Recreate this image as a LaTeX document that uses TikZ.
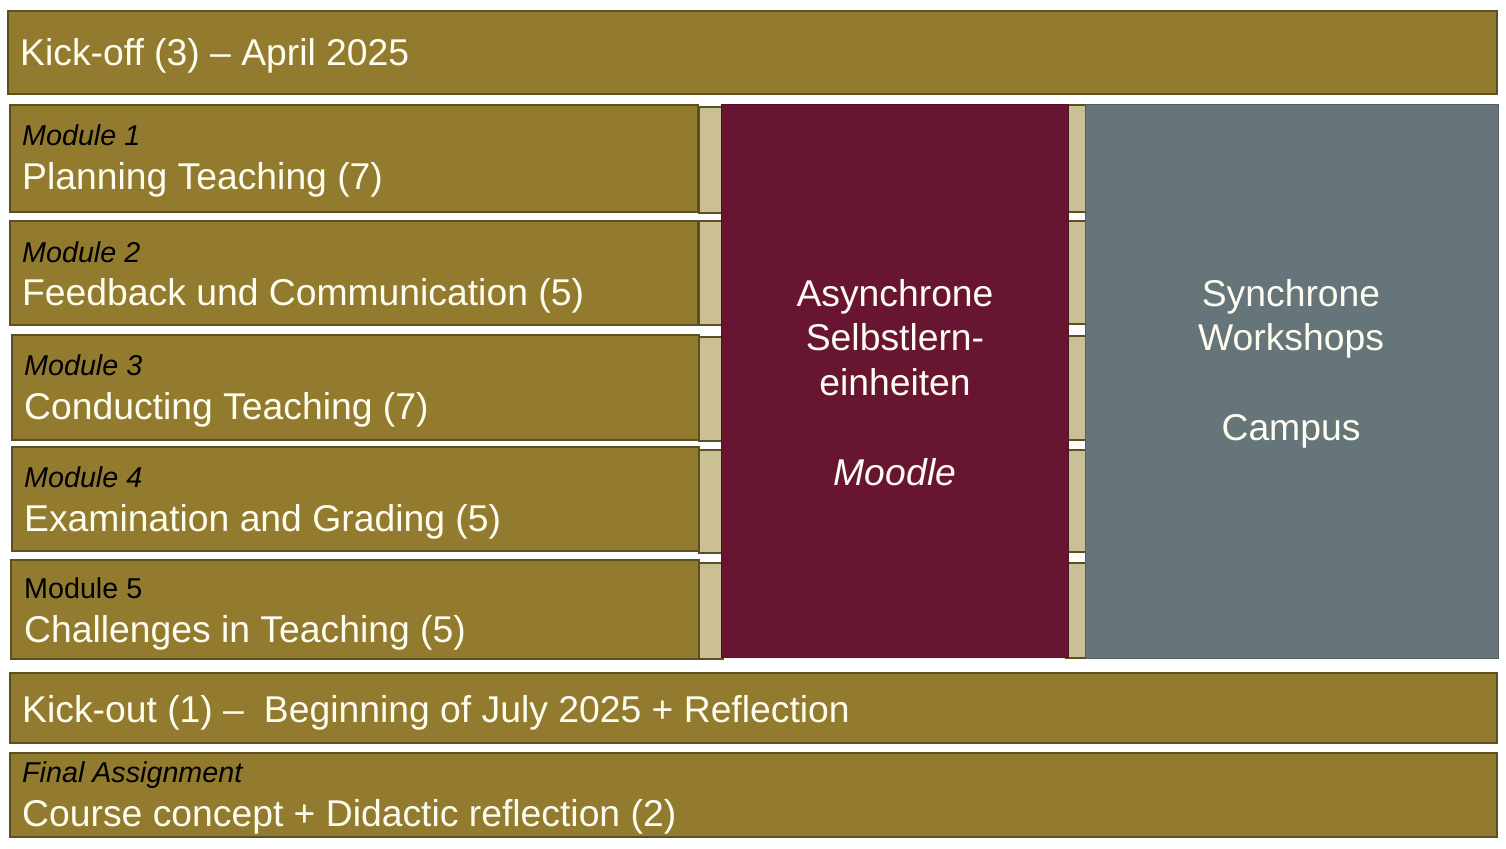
\documentclass[tikz,border=0pt]{standalone}
\usepackage{fontspec}
\setmainfont{Liberation Sans}
\definecolor{goldc}{RGB}{146,123,46}
\definecolor{edgec}{RGB}{92,80,34}
\definecolor{tanc}{RGB}{203,191,150}
\definecolor{purc}{RGB}{104,21,50}
\definecolor{grayc}{RGB}{101,117,122}
\definecolor{txtc}{RGB}{255,253,240}
\tikzset{
  gbox/.style={draw=edgec, line width=1.3pt, fill=goldc, inner sep=0pt, outer sep=0pt, anchor=north west},
  tbox/.style={draw=edgec, line width=1.1pt, fill=tanc, inner sep=0pt, outer sep=0pt, anchor=north west},
  pbox/.style={draw=purc!80!black, line width=1pt, fill=purc, inner sep=0pt, outer sep=0pt, anchor=north west},
  sbox/.style={draw=grayc!80!black, line width=1pt, fill=grayc, inner sep=0pt, outer sep=0pt, anchor=north west},
  big/.style={text=txtc, inner sep=0pt, font=\fontsize{37.3}{44}\selectfont},
  small/.style={text=black, inner sep=0pt, font=\fontsize{28.7}{34}\selectfont\itshape},
  smallup/.style={text=black, inner sep=0pt, font=\fontsize{28.7}{34}\selectfont},
}
\begin{document}
\begin{tikzpicture}[x=1pt,y=-1pt]
\useasboundingbox[fill=white] (0,0) rectangle (1506,848);
% top and bottom bars
\node[gbox, minimum width=1489pt, minimum height=83pt] (kickoff) at (8,11) {};
\node[gbox, minimum width=1487pt, minimum height=70pt] (kickout) at (10,673) {};
\node[gbox, minimum width=1487pt, minimum height=84pt] (final) at (10,753) {};
% module boxes
\node[gbox, minimum width=688pt, minimum height=107pt] (m1) at (10,105) {};
\node[gbox, minimum width=688pt, minimum height=104pt] (m2) at (10,221) {};
\node[gbox, minimum width=687pt, minimum height=105pt] (m3) at (12,335) {};
\node[gbox, minimum width=687pt, minimum height=104pt] (m4) at (12,447) {};
\node[gbox, minimum width=688pt, minimum height=99pt] (m5) at (11,560) {};
% tan strips left
\node[tbox, minimum width=24pt, minimum height=106pt] (ta1) at (699,107) {};
\node[tbox, minimum width=24pt, minimum height=104pt] (ta2) at (699,221) {};
\node[tbox, minimum width=24pt, minimum height=104pt] (ta3) at (699,337) {};
\node[tbox, minimum width=24pt, minimum height=103pt] (ta4) at (699,450) {};
\node[tbox, minimum width=24pt, minimum height=96pt] (ta5) at (699,563) {};
% tan strips right
\node[tbox, minimum width=20pt, minimum height=107pt] (tb1) at (1066,105) {};
\node[tbox, minimum width=20pt, minimum height=103pt] (tb2) at (1066,221) {};
\node[tbox, minimum width=20pt, minimum height=104pt] (tb3) at (1066,336) {};
\node[tbox, minimum width=20pt, minimum height=102pt] (tb4) at (1066,450) {};
\node[tbox, minimum width=20pt, minimum height=95pt] (tb5) at (1066,563) {};
% big blocks
\node[pbox, minimum width=347pt, minimum height=552pt] (async) at (721,105) {};
\node[sbox, minimum width=413pt, minimum height=553pt] (sync) at (1085,105) {};
% texts
\node[big, anchor=base west] (tko) at (20,66) {Kick-off (3) – April 2025};
\node[small, anchor=base west] (l1) at (22,146) {Module 1};
\node[big, anchor=base west] (t1) at (22,189) {Planning Teaching (7)};
\node[small, anchor=base west] (l2) at (22,262) {Module 2};
\node[big, anchor=base west] (t2) at (22,305) {Feedback und Communication (5)};
\node[small, anchor=base west] (l3) at (24,375) {Module 3};
\node[big, anchor=base west] (t3) at (24,419) {Conducting Teaching (7)};
\node[small, anchor=base west] (l4) at (24,487) {Module 4};
\node[big, anchor=base west] (t4) at (24,531) {Examination and Grading (5)};
\node[smallup, anchor=base west] (l5) at (24,598) {Module 5};
\node[big, anchor=base west] (t5) at (24,642) {Challenges in Teaching (5)};
\node[big, anchor=base west] (tkout) at (22,722) {Kick-out (1) –\hspace{20pt}Beginning of July 2025 + Reflection};
\node[small, anchor=base west] (lf) at (22,782) {Final Assignment};
\node[big, anchor=base west] (tf) at (22,826) {Course concept + Didactic reflection (2)};
% purple block text
\node[big, anchor=base] (a1) at (895,306) {Asynchrone};
\node[big, anchor=base] (a2) at (895,350) {Selbstlern-};
\node[big, anchor=base] (a3) at (895,395) {einheiten};
\node[big, anchor=base, font=\fontsize{37.3}{44}\selectfont\itshape] (a4) at (895,485) {Moodle};
% gray block text
\node[big, anchor=base] (s1) at (1291,306) {Synchrone};
\node[big, anchor=base] (s2) at (1291,350) {Workshops};
\node[big, anchor=base] (s3) at (1291,440) {Campus};
\end{tikzpicture}
\end{document}
